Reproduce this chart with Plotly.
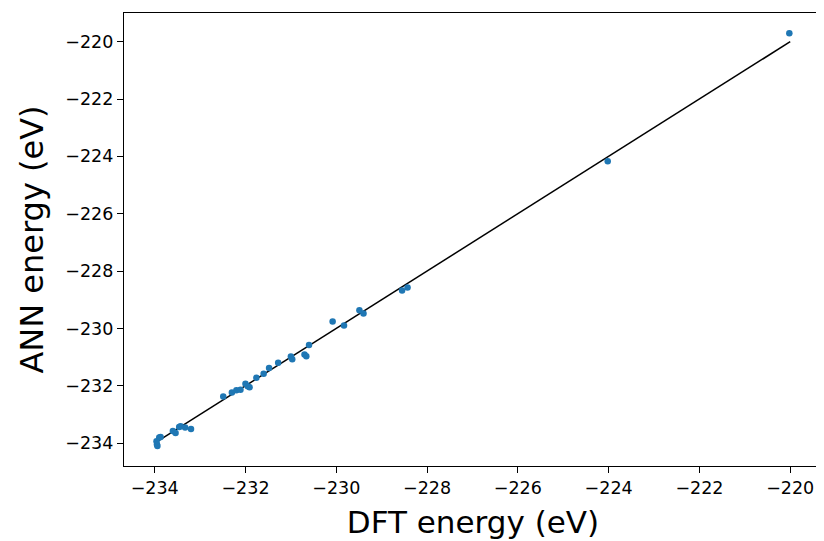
import plotly.graph_objects as go

dft_energy = [-220.02, -224.02, -228.43, -228.55, -230.08, -229.83, -229.49, -229.40,
              -231.91, -231.76, -231.60, -231.48, -231.28, -231.00, -230.97, -230.70,
              -230.66, -230.60, -233.94, -233.96, -233.90, -233.87, -233.95, -233.60,
              -233.54, -233.46, -233.43, -233.33, -233.20, -232.49, -232.30, -232.20,
              -232.11, -232.00, -231.95]
ann_energy = [-219.71, -224.17, -228.57, -228.68, -229.76, -229.90, -229.37, -229.48,
              -232.05, -231.72, -231.58, -231.38, -231.20, -230.98, -231.08, -230.91,
              -230.97, -230.58, -234.10, -233.94, -233.81, -233.79, -234.05, -233.58,
              -233.65, -233.44, -233.41, -233.46, -233.51, -232.38, -232.24, -232.16,
              -232.14, -231.93, -232.02]
line_x = [-234, -220]
line_y = [-234, -220]
tick_vals = [-234, -232, -230, -228, -226, -224, -222, -220]
tick_text = ["\u2212234", "\u2212232", "\u2212230", "\u2212228", "\u2212226", "\u2212224", "\u2212222", "\u2212220"]

fig = go.Figure()
fig.add_trace(go.Scatter(x=line_x, y=line_y, mode="lines",
                         line=dict(color="black", width=1.5), showlegend=False))
fig.add_trace(go.Scatter(x=dft_energy, y=ann_energy, mode="markers",
                         marker=dict(color="#1f77b4", size=6.5, line=dict(width=0)),
                         showlegend=False))

axis_common = dict(showline=True, linecolor="black", linewidth=1.3, mirror=True,
                   ticks="outside", ticklen=6, tickwidth=1.3, tickcolor="black",
                   showgrid=False, zeroline=False, automargin=False,
                   tickfont=dict(family="DejaVu Sans", size=17.5, color="black"),
                   tickvals=tick_vals, ticktext=tick_text)

fig.update_layout(
    width=816, height=533,
    margin=dict(l=116, r=2, t=5, b=75),
    paper_bgcolor="white", plot_bgcolor="white",
    xaxis=dict(range=[-234.676, -219.30],
               title=dict(text="DFT energy (eV)", font=dict(family="DejaVu Sans", size=31, color="black"), standoff=14),
               **axis_common),
    yaxis=dict(range=[-234.80, -219.0],
               title=dict(text="ANN energy (eV)", font=dict(family="DejaVu Sans", size=32, color="black"), standoff=12),
               **axis_common),
)

fig.write_html("out.html")
